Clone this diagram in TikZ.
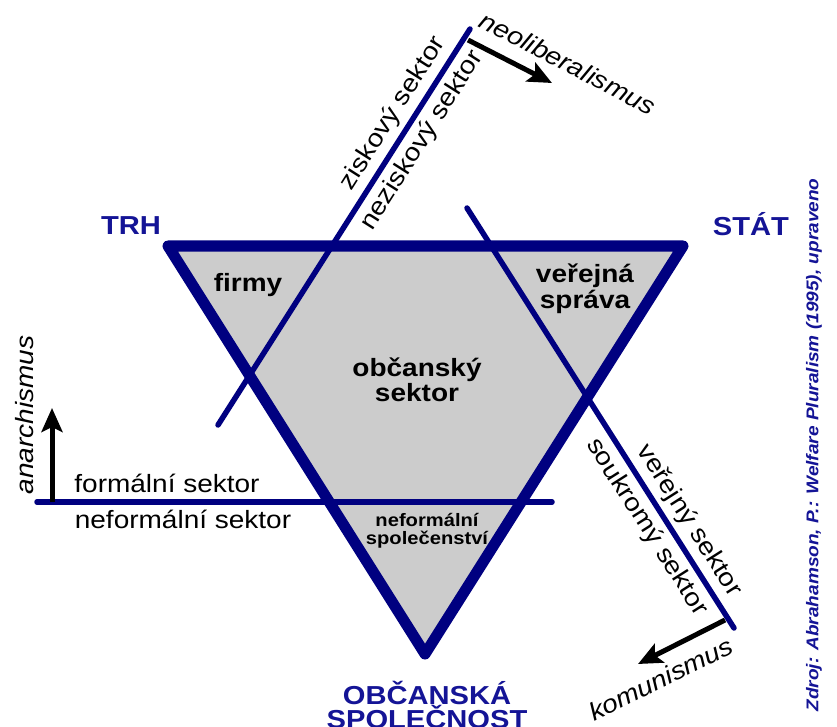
\documentclass[tikz,border=0pt]{standalone}
\usepackage{fontspec}
\setmainfont[FakeStretch=1.12]{Liberation Sans}
\usetikzlibrary{arrows.meta}
\definecolor{tmavomodra}{RGB}{0,0,128}
\definecolor{modra}{RGB}{20,20,150}
\definecolor{vypln}{RGB}{204,204,204}

\begin{document}
\begin{tikzpicture}[x=1pt, y=-1pt,
    hrana/.style={tmavomodra, line width=11pt, line join=round},
    cara/.style={tmavomodra, line width=5.5pt, line cap=round},
    sipka/.style={black, line width=5pt, -{Stealth[length=24pt, width=21pt, inset=5pt]}},
    popis/.style={text=black, font=\fontsize{25}{26}\selectfont, inner sep=2pt},
    smer/.style={text=black, font=\fontsize{25}{26}\selectfont\itshape, inner sep=2pt},
    pole/.style={text=black, font=\fontsize{25}{25.5}\selectfont\bfseries, align=center},
    modre/.style={text=modra, font=\fontsize{26}{23}\selectfont\bfseries, align=center}]

        \useasboundingbox (0,0) rectangle (837,727);

        % Vrcholy trojúhelníku
        \coordinate (trh) at (168,246);
        \coordinate (stat) at (683,246);
        \coordinate (spol) at (425,654);

        % Výplň trojúhelníku
        \fill[vypln] (trh) -- (stat) -- (spol) -- cycle;

        % Koncové body dělicích čar
        \coordinate (z1) at (218,425);
        \coordinate (z2) at (470,29);
        \coordinate (v1) at (467,208);
        \coordinate (v2) at (734,628);
        \coordinate (f1) at (37,502);
        \coordinate (f2) at (552,502);

        % Ziskový / neziskový sektor
        \draw[cara] (z1) -- (z2)
            node[popis, pos=0.76, sloped, above=3pt] (zisk) {ziskový sektor}
            node[popis, pos=0.745, sloped, below=3pt] (nezisk) {neziskový sektor};

        % Veřejný / soukromý sektor
        \draw[cara] (v1) -- (v2)
            node[popis, pos=0.77, sloped, above=3pt] (verej) {veřejný sektor}
            node[popis, pos=0.735, sloped, below=3pt] (soukr) {soukromý sektor};

        % Formální / neformální sektor
        \draw[cara] (f1) -- (f2);
        \node[popis] (formal) at (167,483) {formální sektor};
        \node[popis] (neformal) at (183,519) {neformální sektor};

        % Obrys trojúhelníku
        \draw[hrana] (trh) -- (stat) -- (spol) -- cycle;

        % Šipky
        \coordinate (n1) at (468,40);
        \coordinate (n2) at (552,83);
        \draw[sipka] (n1) -- (n2);
        \node[smer, rotate=-27.5] (neolib) at (568,63) {neoliberalismus};

        \coordinate (k1) at (725,620);
        \coordinate (k2) at (638,664);
        \draw[sipka] (k1) -- (k2);
        \node[smer, rotate=26] (komun) at (661,679) {komunismus};

        \coordinate (a1) at (52,502);
        \coordinate (a2) at (52,408);
        \draw[sipka] (a1) -- (a2);
        \node[smer, rotate=90] (anarch) at (25,415) {anarchismus};

        % Oblasti uvnitř
        \node[pole] (firmy) at (248,285) {firmy};
        \node[pole] (obcan) at (417,380) {občanský\\sektor};
        \node[pole] (sprava) at (585,289) {veřejná\\správa};
        \node[pole, font=\fontsize{18}{18.5}\selectfont\bfseries] (spolec) at (427,531) {neformální\\společenství};

        % Vrcholy
        \node[modre] (trhlbl) at (131,226) {TRH};
        \node[modre] (statlbl) at (751,224) {STÁT};
        \node[modre] (spollbl) at (427,705) {OBČANSKÁ\\SPOLEČNOST};

        % Zdroj
        \node[modre, font=\fontsize{17}{17}\selectfont\bfseries\itshape, rotate=90] (zdroj) at (814,445) {Zdroj: Abrahamson, P.: Welfare Pluralism (1995), upraveno};

\end{tikzpicture}
\end{document}
